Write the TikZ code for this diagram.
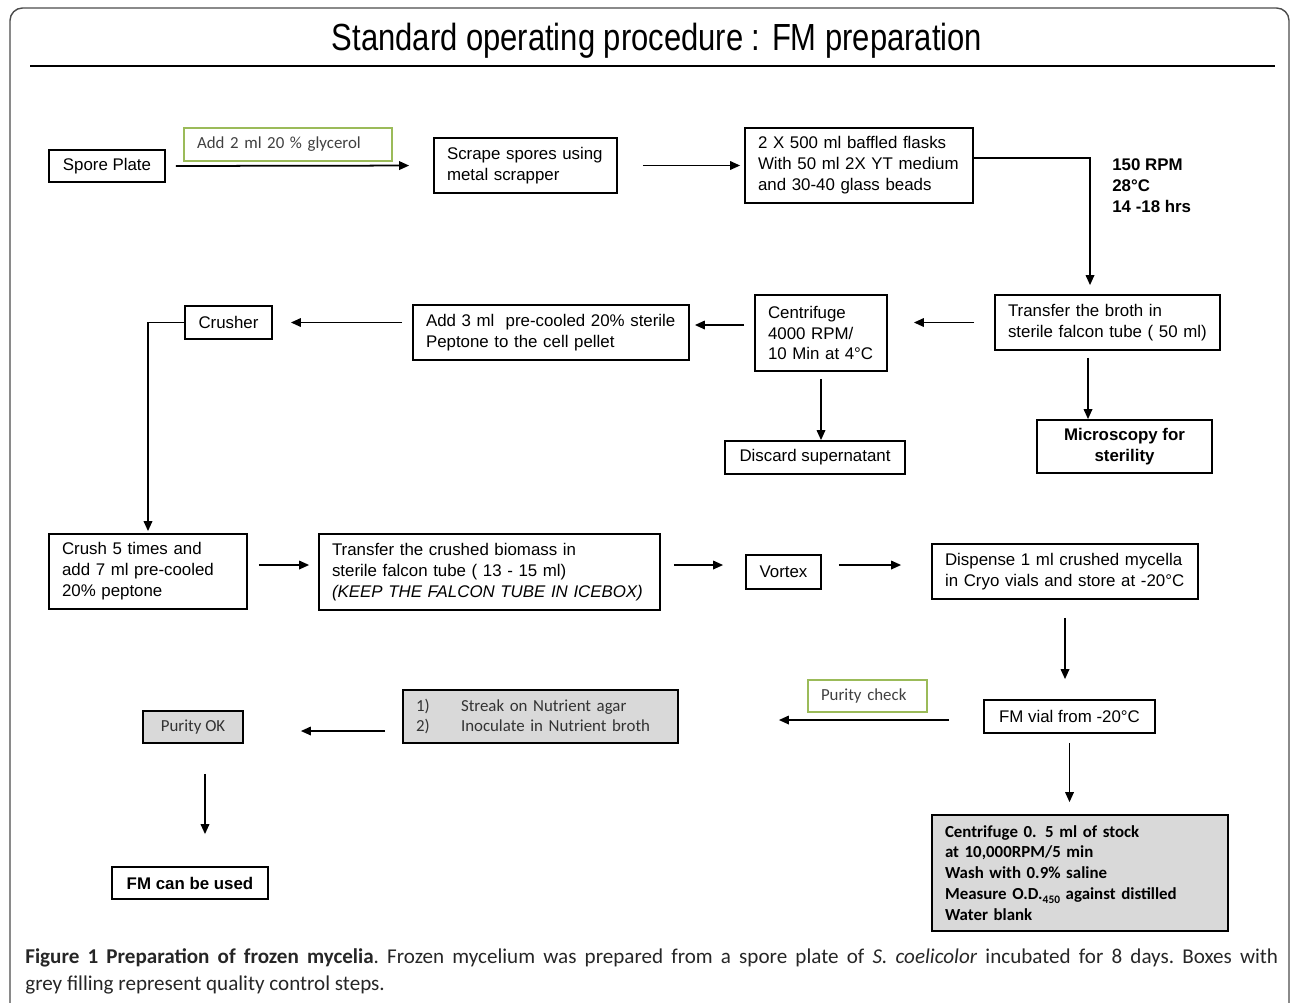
\documentclass[tikz,border=0pt]{standalone}
\usepackage{graphicx}
\usepackage{fontspec}
\setmainfont{Liberation Sans}
\newfontfamily\calfont{Carlito}
\usepackage{xcolor}
\usepackage{tikz}
\usetikzlibrary{arrows.meta, positioning}
\newcommand{\boxfont}{\fontsize{9.6}{11.9}\selectfont}
\newcommand{\calsize}{\calfont\fontsize{9.6}{11.9}\selectfont}
\definecolor{gline}{HTML}{9BBB59}
\definecolor{gfill}{HTML}{D9D9D9}

\begin{document}
\begin{tikzpicture}[x=0.02cm, y=-0.02cm,
        every node/.style={inner sep=0pt, font=\boxfont},
        box/.style={draw, line width=1pt},
        lbox/.style={box, align=left, inner xsep=0.26cm},
        gbox/.style={draw=gline, line width=0.9pt, align=left, inner xsep=0.26cm, font=\calsize, text=black!75},
        qbox/.style={box, fill=gfill, font=\calsize, text=black!80},
        arr/.style={-{Triangle[length=0.2cm, width=0.17cm]}, line width=1pt}]
        \useasboundingbox (0,0) rectangle (1290,1002);
        \draw[black!70, line width=0.8pt, rounded corners=0.25cm] (10,1040) -- (10,8) -- (1289,8) -- (1289,1040);
        \node (title) at (657,41) {\scalebox{0.82}[1]{\fontsize{21.5}{24}\selectfont Standard operating procedure : FM preparation}};
        \draw[line width=1pt] (30,66) -- (1275,66);

        % first row
        \node[box, minimum width=2.32cm, minimum height=0.64cm] (spore) at (107,166) {Spore Plate};
        \node[gbox, text width=3.64cm, minimum height=0.66cm] (glyc) at (288,144.5) {Add 2 ml 20 \% glycerol};
        \node[lbox, text width=3.14cm, minimum height=1.1cm] (scrape) at (525.5,165.5) {Scrape spores using\\ metal scrapper};
        \node[lbox, text width=4.04cm, minimum height=1.5cm] (flask) at (859,165.5) {2 X 500 ml baffled flasks\\ With 50 ml 2X YT medium\\ and 30-40 glass beads};
        \node[font=\boxfont\bfseries, align=left, anchor=west] (rpm) at (1112,186) {150 RPM\\ 28°C\\ 14 -18 hrs};

        % second row
        \node[lbox, text width=3.98cm, minimum height=1.1cm] (broth) at (1107.5,322.5) {Transfer the broth in\\ sterile falcon tube ( 50 ml)};
        \node[lbox, text width=2.12cm, minimum height=1.52cm] (cent) at (821,333) {Centrifuge\\ 4000 RPM/\\ 10 Min at 4°C};
        \node[lbox, text width=5cm, minimum height=1.1cm] (pep) at (551,332.5) {Add 3 ml \ pre-cooled 20\% sterile\\ Peptone to the cell pellet};
        \node[box, minimum width=1.74cm, minimum height=0.66cm] (crusher) at (228.5,322.5) {Crusher};
        \node[box, minimum width=3.6cm, minimum height=0.66cm] (discard) at (815,457.5) {Discard supernatant};
        \node[box, font=\boxfont\bfseries, align=center, minimum width=3.5cm, minimum height=1.06cm] (micro) at (1124.5,446.5) {Microscopy for\\ sterility};

        % third row
        \node[lbox, text width=3.44cm, minimum height=1.5cm] (crush) at (148,571.5) {Crush 5 times and\\ add 7 ml pre-cooled\\ 20\% peptone};
        \node[lbox, text width=6.3cm, minimum height=1.52cm] (biomass) at (489.5,572) {Transfer the crushed biomass in\\ sterile falcon tube ( 13 - 15 ml)\\ \textit{(KEEP THE FALCON TUBE IN ICEBOX)}};
        \node[box, minimum width=1.5cm, minimum height=0.68cm] (vortex) at (783.5,572) {Vortex};
        \node[lbox, text width=4.8cm, minimum height=1.1cm] (disp) at (1065,571.5) {Dispense 1 ml crushed mycella\\ in Cryo vials and store at -20°C};

        % quality control
        \node[box, minimum width=3.42cm, minimum height=0.66cm] (vial) at (1069.5,716.5) {FM vial from -20°C};
        \node[gbox, text width=1.86cm, minimum height=0.64cm] (pcheck) at (867.5,696) {Purity check};
        \node[qbox, align=left, text width=4.98cm, inner xsep=0.26cm, minimum height=1.06cm] (streak) at (540.5,716.5) {\makebox[0.9cm][l]{1)}Streak on Nutrient agar\\ \makebox[0.9cm][l]{2)}Inoculate in Nutrient broth};
        \node[qbox, minimum width=2cm, minimum height=0.64cm] (pok) at (193,727) {Purity OK};
        \node[box, font=\boxfont\bfseries, minimum width=3.12cm, minimum height=0.64cm] (used) at (190,883) {FM can be used};
        \node[qbox, font=\calsize\bfseries, text=black, align=left, text width=5.4cm, inner xsep=0.26cm, minimum height=2.32cm] (qc) at (1080,873) {Centrifuge 0. 5 ml of stock\\ at 10,000RPM/5 min\\ Wash with 0.9\% saline\\ Measure O.D.\raisebox{-0.4ex}{\fontsize{6.5}{7}\selectfont 450} against distilled\\ Water blank};

        \draw[arr, shorten <=0.2cm, shorten >=0.48cm] (spore.east) -- (scrape.west);
        \draw[arr, shorten <=0.5cm, shorten >=0.08cm] (scrape.east) -- (flask.west);
        \draw[arr, shorten >=0.18cm] ([yshift=0.15cm]flask.east) -| ([xshift=-0.35cm]broth.north);
        \draw[arr, shorten <=0.4cm, shorten >=0.52cm] (broth.west) -- (broth.west -| cent.east);
        \draw[arr, shorten <=0.2cm, shorten >=0.1cm] ([yshift=0.16cm]cent.west) -- ([yshift=0.16cm]cent.west -| pep.east);
        \draw[arr, shorten <=0.2cm, shorten >=0.36cm] (pep.west |- crusher.east) -- (crusher.east);
        \draw[arr, shorten >=0.04cm] (crusher.west) -| (crush.north);
        \draw[arr, shorten <=0.14cm] (cent.south) -- (cent.south |- discard.north);
        \draw[arr, shorten <=0.14cm] ([xshift=-0.39cm]broth.south) -- ([xshift=-0.39cm]broth.south |- micro.north);
        \draw[arr, shorten <=0.22cm, shorten >=0.18cm] ([yshift=0.13cm]crush.east) -- ([yshift=0.13cm]crush.east -| biomass.west);
        \draw[arr, shorten <=0.26cm, shorten >=0.44cm] ([yshift=0.14cm]biomass.east) -- ([yshift=0.14cm]biomass.east -| vortex.west);
        \draw[arr, shorten <=0.34cm, shorten >=0.6cm] ([yshift=0.14cm]vortex.east) -- ([yshift=0.14cm]vortex.east -| disp.west);
        \draw[arr, shorten <=0.36cm, shorten >=0.4cm] (disp.south) -- (disp.south |- vial.north);
        \draw[arr, shorten <=0.68cm, shorten >=2cm] ([yshift=-0.07cm]vial.west) -- ([yshift=-0.07cm]vial.west -| streak.east);
        \draw[arr, shorten <=0.34cm, shorten >=1.14cm] ([yshift=-0.08cm]pok.east -| streak.west) -- ([yshift=-0.08cm]pok.east);
        \draw[arr, shorten <=0.6cm, shorten >=0.64cm] ([xshift=0.24cm]pok.south) -- ([xshift=0.24cm]pok.south |- used.north);
        \draw[arr, shorten <=0.18cm, shorten >=0.24cm] (vial.south) -- (vial.south |- qc.north);

        % caption
        \node[anchor=west, font=\calfont\fontsize{12}{14}\selectfont\frenchspacing, text=black!85] (cap1) at (25,958) {\makebox[25.06cm][s]{\textbf{Figure 1 Preparation of frozen mycelia}. Frozen mycelium was prepared from a spore plate of \textit{S. coelicolor} incubated for 8 days. Boxes with}};
        \node[anchor=west, font=\calfont\fontsize{12}{14}\selectfont, text=black!85] (cap2) at (25,985) {grey filling represent quality control steps.};
    \end{tikzpicture}
\end{document}
